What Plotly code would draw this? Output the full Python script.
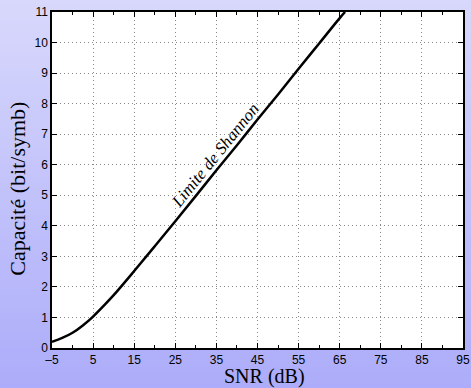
import plotly.graph_objects as go

snr_db = [-5, -2.5, 0, 2.5, 5, 7.5, 10, 15, 20, 25, 30, 35, 40, 45, 50, 55, 60, 65, 66.3]
capacity = [0.2, 0.33, 0.5, 0.74, 1.03, 1.37, 1.73, 2.52, 3.33, 4.15, 4.98, 5.82, 6.64, 7.48, 8.3, 9.14, 9.97, 10.8, 11.0]
x_ticks = [-5, 5, 15, 25, 35, 45, 55, 65, 75, 85, 95]
y_ticks = list(range(0, 12))

fig = go.Figure()
fig.add_trace(go.Scatter(x=snr_db, y=capacity, mode="lines",
                         line=dict(color="black", width=2.5, shape="spline"),
                         showlegend=False, hoverinfo="skip", cliponaxis=True))

# gradient background strips
shapes = []
n = 60
top = (216, 216, 252)
bot = (172, 172, 250)
ymin, ymax = -0.13, 1.04
for i in range(n):
    t = i / (n - 1)
    c = tuple(int(round(bot[k] + (top[k] - bot[k]) * t)) for k in range(3))
    y0 = ymin + (ymax - ymin) * i / n
    y1 = ymin + (ymax - ymin) * (i + 1) / n + 0.002
    shapes.append(dict(type="rect", xref="paper", yref="paper", x0=-0.2, x1=1.1,
                       y0=y0, y1=y1, fillcolor="rgb(%d,%d,%d)" % c,
                       line=dict(width=0), layer="below"))
shapes.append(dict(type="rect", xref="paper", yref="paper", x0=0, x1=1, y0=0, y1=1,
                   fillcolor="white", line=dict(width=0), layer="below"))

axis_common = dict(showline=True, linecolor="black", linewidth=1.5, mirror="allticks",
                   ticks="inside", ticklen=5, tickcolor="black", tickwidth=1,
                   showgrid=True, gridcolor="#888", griddash="1px,3px", gridwidth=1,
                   zeroline=False, automargin=False,
                   tickfont=dict(family="Liberation Sans, Arial", size=12, color="black"))

serif = "Liberation Serif, Times New Roman"
fig.update_layout(
    width=471, height=388,
    margin=dict(l=52, r=8, t=12, b=40),
    paper_bgcolor="rgb(196,196,250)",
    plot_bgcolor="white",
    shapes=shapes,
    xaxis=dict(range=[-5, 95], tickvals=x_ticks, ticktext=["\u20135"] + [str(v) for v in x_ticks[1:]],
               minor=dict(ticks="inside", dtick=5, tick0=0, ticklen=3, tickcolor="black", showgrid=False),
               **axis_common),
    yaxis=dict(range=[0, 11], tickvals=y_ticks, **axis_common),
    annotations=[
        dict(x=34.7, y=6.3, xref="x", yref="y", text="<i>Limite de Shannon</i>",
             showarrow=False, textangle=-51,
             font=dict(family=serif, size=17, color="black")),
        dict(x=0.516, y=-0.084, xref="paper", yref="paper", text="SNR (dB)",
             showarrow=False, xanchor="center", yanchor="middle", borderpad=0,
             font=dict(family=serif, size=20, color="black")),
        dict(x=-0.086, y=0.473, xref="paper", yref="paper", text="Capacité (bit/symb)",
             showarrow=False, xanchor="center", yanchor="middle", textangle=-90,
             font=dict(family=serif, size=22, color="black")),
    ],
)

fig.write_html("out.html", config={"displayModeBar": False},
               post_script="document.body.style.margin='0';document.body.style.overflow='hidden';")
